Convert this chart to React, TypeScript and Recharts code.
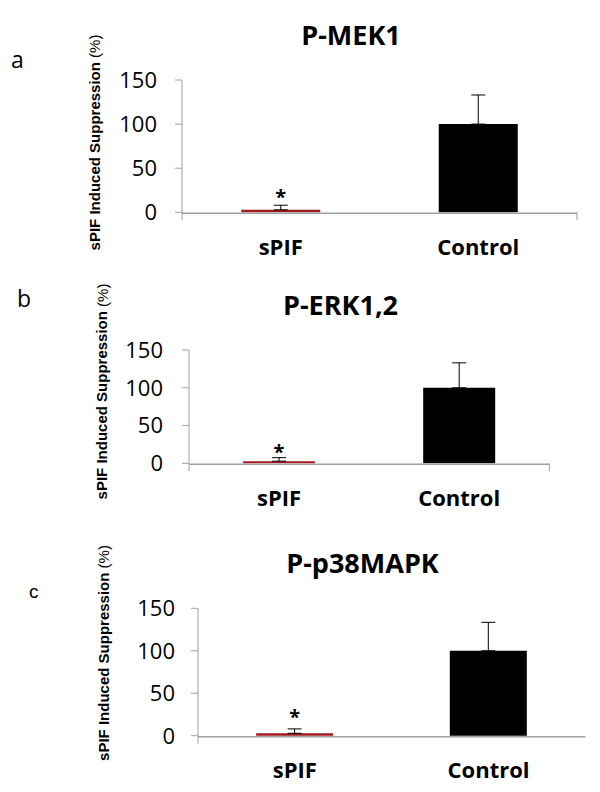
import React from 'react';
import { BarChart, Bar, XAxis, YAxis, ErrorBar, Cell, LabelList } from 'recharts';

// ---- data ----
const categories = ['sPIF', 'Control'];
const panelTitles = ['P-MEK1', 'P-ERK1,2', 'P-p38MAPK'];
const panelLetters = ['a', 'b', 'c'];
const mek1Values = [2.8, 100];
const mek1Errors = [5.2, 33];
const erk12Values = [2.8, 100];
const erk12Errors = [4.7, 33];
const p38Values = [2.8, 100];
const p38Errors = [5.2, 33.5];
const significance = ['*', ''];
const yTicks = [0, 50, 100, 150];
const bandEdges = [0, 1, 2];
const barColors = ['#a3181d', '#000000'];
const yAxisTitle = 'sPIF Induced Suppression';
const yAxisUnit = '(%)';

const seriesValues = [mek1Values, erk12Values, p38Values];
const seriesErrors = [mek1Errors, erk12Errors, p38Errors];

const buildData = (values: number[], errors: number[]) =>
  categories.map((c, i) => ({
    category: c,
    value: values[i],
    err: [0, errors[i]],
    sig: significance[i],
  }));

// ---- layout (styles / positions) ----
const GRAY = '#a0a0a0';
const layouts = [
  {
    top: 0, height: 265,
    margin: { top: 80, right: 23, bottom: 1.7, left: 122 },
    yTickMargin: 18, yLabel: { x: 94, y: 142.5 },
    title: { x: 351, y: 45 },
    letter: { x: 11, y: 68, size: 23, font: 'Open Sans' },
    starOffset: 5.6,
  },
  {
    top: 265, height: 265,
    margin: { top: 85, right: 50.7, bottom: 15.7, left: 129 },
    yTickMargin: 19, yLabel: { x: 101.5, y: 126.5 },
    title: { x: 340.5, y: 315 },
    letter: { x: 17, y: 307, size: 23, font: 'Open Sans' },
    starOffset: 2,
  },
  {
    top: 530, height: 262,
    margin: { top: 78.3, right: 14.6, bottom: 5.3, left: 138 },
    yTickMargin: 16, yLabel: { x: 103, y: 123 },
    title: { x: 362.5, y: 573 },
    letter: { x: 29, y: 598, size: 19, font: 'Liberation Sans' },
    starOffset: 9.4,
  },
];

const YLabel = ({ cx, cy }: { cx: number; cy: number }) => (
  <text
    x={cx}
    y={cy}
    transform={`rotate(-90 ${cx} ${cy})`}
    textAnchor="middle"
    dominantBaseline="central"
    fontFamily="'Liberation Sans', Arial, sans-serif"
    fontSize={15}
    fontWeight={700}
    fill="#000"
  >
    {yAxisTitle} <tspan fontWeight={400}>{yAxisUnit}</tspan>
  </text>
);

const EmptyTick = () => <g />;

const Panel = ({ index }: { index: number }) => {
  const L = layouts[index];
  const data = buildData(seriesValues[index], seriesErrors[index]);
  return (
    <div style={{ position: 'absolute', left: 0, top: L.top, width: 600, height: L.height }}>
      <BarChart
        width={600}
        height={L.height}
        data={data}
        margin={L.margin}
        barCategoryGap="30%"
      >
        <XAxis
          xAxisId={0}
          type="number"
          domain={[0, 2]}
          ticks={bandEdges}
          tick={EmptyTick}
          tickSize={8}
          tickLine={{ stroke: GRAY, strokeWidth: 1 }}
          axisLine={false}
          height={1}
          allowDataOverflow
        />
        <XAxis
          xAxisId={1}
          dataKey="category"
          type="category"
          interval={0}
          tickLine={false}
          tickSize={0}
          tickMargin={26}
          axisLine={{ stroke: GRAY, strokeWidth: 1.5 }}
          height={50}
          tick={{ fontSize: 22, fontWeight: 700, fill: '#000', fontFamily: 'Open Sans' }}
        />
        <YAxis
          width={60}
          domain={[0, 150]}
          ticks={yTicks}
          interval={0}
          tickSize={7}
          tickMargin={L.yTickMargin}
          axisLine={{ stroke: GRAY }}
          tickLine={{ stroke: GRAY }}
          tick={{ fontSize: 22, fill: '#000', fontFamily: 'Open Sans' }}
          label={<YLabel cx={L.yLabel.x} cy={L.yLabel.y} />}
        />
        <Bar dataKey="value" xAxisId={1} isAnimationActive={false}>
          {data.map((d, i) => (
            <Cell key={d.category} fill={barColors[i]} />
          ))}
          <ErrorBar dataKey="err" direction="y" width={7} stroke="#000" strokeWidth={1} />
          <LabelList
            dataKey="sig"
            content={(p: any) => {
              if (!p.value) return null;
              const x = Number(p.x) + Number(p.width) / 2;
              const y = Number(p.y) - L.starOffset;
              return (
                <text x={x} y={y} textAnchor="middle" fontSize={20} fontWeight={700} fontFamily="Open Sans" fill="#000">
                  {p.value}
                </text>
              );
            }}
          />
        </Bar>
      </BarChart>
    </div>
  );
};

export default function App() {
  return (
    <div style={{ position: 'absolute', left: 0, top: 0, width: 600, height: 792, background: '#fff' }}>
      {layouts.map((_, i) => (
        <Panel key={i} index={i} />
      ))}
      <svg width={600} height={792} style={{ position: 'absolute', left: 0, top: 0, pointerEvents: 'none' }}>
        {layouts.map((L, i) => (
          <g key={i}>
            <text x={L.title.x} y={L.title.y} textAnchor="middle" fontFamily="Open Sans" fontWeight={700} fontSize={27} fill="#000">
              {panelTitles[i]}
            </text>
            <text x={L.letter.x} y={L.letter.y} fontFamily={L.letter.font} fontSize={L.letter.size} fill="#000">
              {panelLetters[i]}
            </text>
          </g>
        ))}
      </svg>
    </div>
  );
}
